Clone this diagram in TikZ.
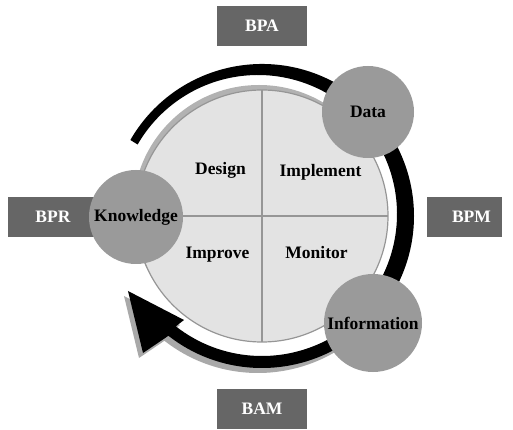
\documentclass[tikz,border=0pt]{standalone}
\usepackage{fontspec}
\setmainfont{Liberation Serif}
\usepackage{tikz}
\definecolor{boxgray}{HTML}{666666}
\definecolor{discgray}{HTML}{9A9A9A}
\definecolor{wheelfill}{HTML}{E3E3E3}
\definecolor{wheelrim}{HTML}{B2B2B2}
\definecolor{wheelline}{HTML}{969696}
\definecolor{shadowgray}{HTML}{A9A9A9}
\tikzset{
  box/.style={fill=boxgray, text=white, inner sep=0pt, minimum width=90, minimum height=40,
    font=\fontsize{17.5}{20}\selectfont\bfseries},
  disc/.style={circle, fill=discgray, inner sep=0pt, font=\fontsize{17.5}{20}\selectfont\bfseries},
  phase/.style={anchor=base, font=\fontsize{17.5}{20}\selectfont\bfseries}
}

\begin{document}
\begin{tikzpicture}[x=1pt,y=1pt]
	\useasboundingbox (-262,-214) rectangle (251,216);
	% wheel with its rim
	\fill[wheelrim] (-3,5) circle (126);
	\draw[wheelline, fill=wheelfill, line width=1.2] (0,0) circle (126);
	\draw[wheelline, line width=2] (0,126) -- (0,-126);
	\draw[wheelline, line width=2] (-126,0) -- (126,0);
	% upper band
	\fill[black] (150:152) arc[start angle=150, end angle=-50, radius=152]
		-- ([shift={(-4,2)}]-50:139) arc[start angle=-50, end angle=150, radius=139] -- cycle;
	% lower arrow and its shadow
	\foreach \dx/\dy/\col in {-4/-5/shadowgray, 0/0/black}
		\fill[\col, shift={(\dx,\dy)}] (-40:152) arc[start angle=-40, end angle=-128, radius=152]
			-- (-119,-137) -- (-134,-75) -- (-78,-104)
			-- (-128:140) arc[start angle=-128, end angle=-40, radius=140] -- cycle;
	% tools round the wheel
	\node[box] (bpa) at (0,190) {BPA};
	\node[box] (bam) at (0,-193) {BAM};
	\node[box] (bpr) at (-209,-1) {BPR};
	\node[box, minimum width=75] (bpm) at (202.5,-1) {\hspace*{14pt}BPM};
	% assets
	\node[disc, minimum size=92] (data) at (106,104) {Data};
	\node[disc, minimum size=98] (info) at (111,-107) {Information};
	\node[disc, minimum size=94] (know) at (-126,-1) {Knowledge};
	% phases
	\node[phase] (design) at (-41.5,41) {Design};
	\node[phase] (implement) at (58.5,39) {Implement};
	\node[phase] (improve) at (-44.5,-43) {Improve};
	\node[phase] (monitor) at (54.5,-43) {Monitor};
\end{tikzpicture}
\end{document}
